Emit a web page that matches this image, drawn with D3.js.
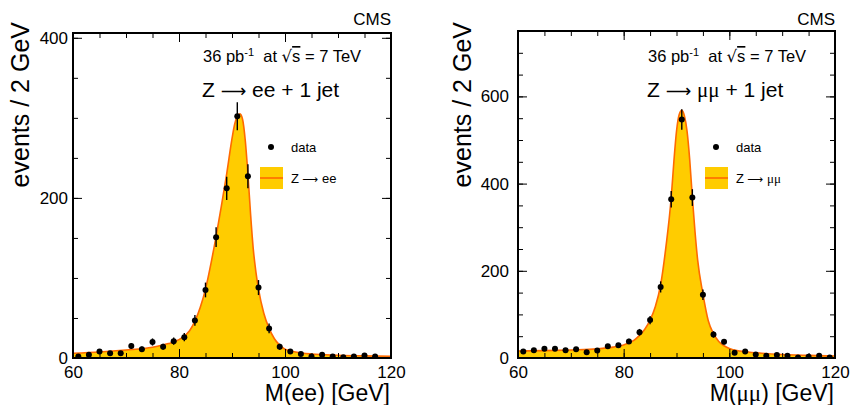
<!DOCTYPE html>
<html>
<head>
<meta charset="utf-8">
<script src="https://cdn.jsdelivr.net/npm/d3@7"></script>
<style>
  body { margin: 0; background: #fff; }
  svg { font-family: "Liberation Sans", Arial, Helvetica, sans-serif; }
  .tick text { font-size: 17px; fill: #000; }
</style>
</head>
<body>
<script>
// bin centres, 2 GeV bins from 60 to 120
const massBins = [61, 63, 65, 67, 69, 71, 73, 75, 77, 79, 81, 83, 85, 87, 89,
                  91, 93, 95, 97, 99, 101, 103, 105, 107, 109, 111, 113, 115, 117, 119];

// data counts
const eeCounts = [2, 4, 8, 6, 6, 15, 11, 20, 14, 21, 26, 47, 85, 151, 212,
                  302, 227, 88, 37, 14, 8, 5, 2, 4, 2, 1, 2, 3, 2, 0];
const mumuCounts = [15, 18, 21, 21, 18, 20, 13, 17, 27, 29, 38, 59, 87, 163, 364,
                    547, 368, 145, 54, 37, 12, 15, 8, 5, 7, 5, 1, 3, 5, 1];

// Z template curve
const eeFitMass = [60, 65, 70, 75, 78, 80, 82, 83, 84, 85, 86, 87, 88, 89, 90, 90.5, 91, 91.5, 92, 92.5,
                   93, 93.5, 94, 94.5, 95, 96, 97, 98, 99, 100, 102, 105, 110, 115, 120];
const eeFitValue = [6, 7.5, 10, 13.5, 18, 23, 34, 46, 63, 86, 117, 152, 190, 230, 274, 292, 302, 305, 298, 272,
                    230, 180, 137, 108, 86, 56, 37, 24, 16, 11, 7.5, 5, 3.5, 2.7, 2.2];
const mumuFitMass = [60, 65, 70, 75, 78, 80, 82, 83, 84, 85, 86, 87, 88, 89, 89.5, 90, 90.5, 91, 91.5, 92,
                     92.5, 93, 93.5, 94, 95, 96, 97, 98, 99, 100, 102, 105, 110, 115, 120];
const mumuFitValue = [16, 17, 18.5, 21, 25, 30, 41, 52, 66, 87, 118, 168, 255, 368, 450, 520, 558, 568, 555, 520,
                      455, 368, 290, 225, 147, 86, 56, 38, 28, 22, 16, 12, 8, 6, 4.5];

const xMajorTicks = [60, 80, 100, 120];
const xMinorTicks = d3.range(60, 121, 5);
const eeMajorTicks = [0, 200, 400];
const mumuMajorTicks = [0, 200, 400, 600];

const W = 851, H = 405;
const fillColor = "#ffcc00";
const lineColor = "#ff6a00";
const arrowFont = "DejaVu Sans, sans-serif";

const svg = d3.select("body").append("svg")
  .attr("width", W)
  .attr("height", H);

const panels = [
  {
    id: "ee", x0: 73, x1: 391, yTop: 33, yBot: 358, yMax: 406,
    counts: eeCounts, fitMass: eeFitMass, fitValue: eeFitValue,
    majorY: eeMajorTicks, minorY: d3.range(0, 401, 50),
    labelPad: 5, yTitleX: 29, lepton: "ee", serif: false
  },
  {
    id: "mumu", x0: 518, x1: 835, yTop: 31, yBot: 358, yMax: 750,
    counts: mumuCounts, fitMass: mumuFitMass, fitValue: mumuFitValue,
    majorY: mumuMajorTicks, minorY: d3.range(0, 751, 50),
    labelPad: 9, yTitleX: 471, lepton: "\u03bc\u03bc", serif: true
  }
];

// "Z -> ll" with a long thin arrow like the ROOT symbol font
function zDecay(sel, p) {
  sel.append("tspan").text("Z ");
  sel.append("tspan").attr("font-family", arrowFont).attr("font-size", "0.85em").text("\u27f6");
  sel.append("tspan").text(" ");
  sel.append("tspan").attr("font-family", p.serif ? "Liberation Serif, serif" : null).text(p.lepton);
}

panels.forEach(function(p) {
  const x = d3.scaleLinear().domain([60, 120]).range([p.x0, p.x1]);
  const y = d3.scaleLinear().domain([0, p.yMax]).range([p.yBot, p.yTop]);
  const g = svg.append("g");

  // clip to the frame
  g.append("clipPath").attr("id", "clip-" + p.id)
    .append("rect")
    .attr("x", p.x0).attr("y", p.yTop)
    .attr("width", p.x1 - p.x0).attr("height", p.yBot - p.yTop);

  const plot = g.append("g").attr("clip-path", "url(#clip-" + p.id + ")");

  const fit = p.fitMass.map(function(m, i) { return [m, p.fitValue[i]]; });

  const area = d3.area()
    .x(function(d) { return x(d[0]); })
    .y0(y(0))
    .y1(function(d) { return y(d[1]); })
    .curve(d3.curveMonotoneX);
  const line = d3.line()
    .x(function(d) { return x(d[0]); })
    .y(function(d) { return y(d[1]); })
    .curve(d3.curveMonotoneX);

  plot.append("path").datum(fit)
    .attr("d", area)
    .attr("fill", fillColor);
  plot.append("path").datum(fit)
    .attr("d", line)
    .attr("fill", "none")
    .attr("stroke", lineColor)
    .attr("stroke-width", 1.6);

  // data points with sqrt(N) errors
  const pts = massBins.map(function(m, i) { return { m: m, n: p.counts[i] }; })
    .filter(function(d) { return d.n > 0; });

  plot.selectAll(".err").data(pts).enter().append("line")
    .attr("x1", function(d) { return x(d.m); })
    .attr("x2", function(d) { return x(d.m); })
    .attr("y1", function(d) { return y(d.n - Math.sqrt(d.n)); })
    .attr("y2", function(d) { return y(d.n + Math.sqrt(d.n)); })
    .attr("stroke", "#000")
    .attr("stroke-width", 1.4);

  plot.selectAll(".pt").data(pts).enter().append("circle")
    .attr("cx", function(d) { return x(d.m); })
    .attr("cy", function(d) { return y(d.n); })
    .attr("r", 3)
    .attr("fill", "#000");

  // axes: ticks inward on all four sides
  function addAxis(axis, tr) {
    const a = g.append("g").attr("transform", tr).call(axis);
    a.select(".domain").remove();
    a.selectAll(".tick line").attr("stroke", "#000").attr("stroke-width", 1);
    return a;
  }

  addAxis(d3.axisBottom(x).tickValues(xMinorTicks).tickSize(-5).tickFormat(""), "translate(0," + p.yBot + ")");
  addAxis(d3.axisBottom(x).tickValues(xMajorTicks).tickSize(-9).tickPadding(7).tickFormat(d3.format("d")), "translate(0," + p.yBot + ")")
    .selectAll("text").attr("dy", "0.71em").attr("y", 8);
  addAxis(d3.axisTop(x).tickValues(xMinorTicks).tickSize(-5).tickFormat(""), "translate(0," + p.yTop + ")");
  addAxis(d3.axisTop(x).tickValues(xMajorTicks).tickSize(-9).tickFormat(""), "translate(0," + p.yTop + ")");

  addAxis(d3.axisLeft(y).tickValues(p.minorY).tickSize(-5).tickFormat(""), "translate(" + p.x0 + ",0)");
  addAxis(d3.axisLeft(y).tickValues(p.majorY).tickSize(-9).tickPadding(p.labelPad).tickFormat(d3.format("d")), "translate(" + p.x0 + ",0)");
  addAxis(d3.axisRight(y).tickValues(p.minorY).tickSize(-5).tickFormat(""), "translate(" + p.x1 + ",0)");
  addAxis(d3.axisRight(y).tickValues(p.majorY).tickSize(-9).tickFormat(""), "translate(" + p.x1 + ",0)");

  // frame
  g.append("rect")
    .attr("x", p.x0).attr("y", p.yTop)
    .attr("width", p.x1 - p.x0).attr("height", p.yBot - p.yTop)
    .attr("fill", "none")
    .attr("stroke", "#000")
    .attr("stroke-width", 2);

  // titles
  g.append("text")
    .attr("x", p.x1).attr("y", 25)
    .attr("text-anchor", "end")
    .attr("font-size", 17)
    .text("CMS");

  const xt = g.append("text")
    .attr("x", p.x1 - 1).attr("y", 401)
    .attr("text-anchor", "end")
    .attr("font-size", 23);
  xt.append("tspan").text("M(");
  xt.append("tspan").attr("font-family", p.serif ? "Liberation Serif, serif" : null).text(p.lepton);
  xt.append("tspan").text(") [GeV]");

  g.append("text")
    .attr("transform", "translate(" + p.yTitleX + ",22) rotate(-90)")
    .attr("text-anchor", "end")
    .attr("font-size", 25)
    .text("events / 2 GeV");

  const lumi = g.append("text")
    .attr("x", p.x0 + 130).attr("y", 62)
    .attr("font-size", 16.5);
  lumi.append("tspan").text("36 pb");
  lumi.append("tspan").attr("font-size", 11).attr("dy", -6).text("-1");
  lumi.append("tspan").attr("dy", 6).text("\u00a0\u00a0at\u00a0");
  lumi.append("tspan").attr("font-family", arrowFont).text("\u221a");
  lumi.append("tspan").style("text-decoration", "overline").text("s");
  lumi.append("tspan").text(" = 7 TeV");

  const proc = g.append("text")
    .attr("x", p.x0 + 129).attr("y", 97)
    .attr("font-size", 21);
  zDecay(proc, p);
  proc.append("tspan").text(" + 1 jet");

  // legend
  const lx = p.x0 + 187;
  g.append("circle").attr("cx", lx + 11).attr("cy", 147).attr("r", 3).attr("fill", "#000");
  g.append("text").attr("x", lx + 31).attr("y", 151.5).attr("font-size", 13).text("data");
  g.append("rect")
    .attr("x", lx).attr("y", 167)
    .attr("width", 23).attr("height", 22)
    .attr("fill", fillColor);
  g.append("line")
    .attr("x1", lx).attr("x2", lx + 23)
    .attr("y1", 178).attr("y2", 178)
    .attr("stroke", lineColor).attr("stroke-width", 1.6);
  const lt = g.append("text").attr("x", lx + 31).attr("y", 183).attr("font-size", 13);
  zDecay(lt, p);
});
</script>
</body>
</html>
